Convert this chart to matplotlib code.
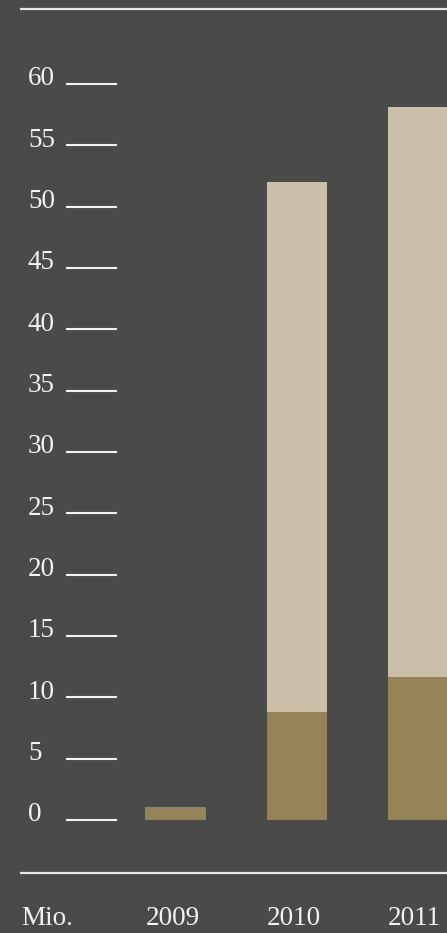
import numpy as np
import matplotlib
matplotlib.use('Agg')
import matplotlib.pyplot as plt
from matplotlib.lines import Line2D
import matplotlib.transforms as mtransforms

# data (Mio.)
years = ['2009', '2010', '2011']
lower = [1.1, 8.8, 11.65]
upper = [0.0, 43.2, 46.45]
yticks = list(range(0, 61, 5))

BG = '#4a4a48'
DARK = '#968459'
LIGHT = '#cac0aa'
TXT = '#f2f2f2'
FS = 19.5

plt.rcParams['font.family'] = ['Liberation Serif', 'DejaVu Serif']

fig = plt.figure(figsize=(4.47, 9.33), dpi=100, facecolor=BG)
ax = fig.add_axes([0, (933 - 820) / 933, 1, 736 / 933])
ax.set_facecolor(BG)

x = np.arange(len(years))
ax.bar(x, lower, width=0.5, color=DARK, linewidth=0)
ax.bar(x, upper, width=0.5, bottom=lower, color=LIGHT, linewidth=0)

ax.set_xlim(-175.7 / 121.2, (447 - 175.7) / 121.2)
ax.set_ylim(0, 60)
ax.axis('off')

# y ticks: label + short line
trans = mtransforms.blended_transform_factory(ax.transAxes, ax.transData)
for t in yticks:
    ax.text(28 / 447, t - 0.1, str(t), transform=trans, ha='left', va='baseline',
            fontsize=FS, color=TXT, clip_on=False)
    ax.plot([66 / 447, 117 / 447], [t, t], transform=trans, color=TXT,
            lw=1.5, solid_capstyle='butt', clip_on=False)

# top and bottom rules
fig.add_artist(Line2D([21 / 447, 1], [1 - 8.5 / 933, 1 - 8.5 / 933],
                      color='#e6e6e6', lw=1.6, transform=fig.transFigure))
fig.add_artist(Line2D([21 / 447, 1], [1 - 872.5 / 933, 1 - 872.5 / 933],
                      color='#e6e6e6', lw=1.6, transform=fig.transFigure))

# category labels
base = (933 - 925) / 933
fig.text(21 / 447, base, 'Mio.', ha='left', va='baseline', fontsize=FS, color=TXT)
trans2 = mtransforms.blended_transform_factory(ax.transData, fig.transFigure)
for i, y in enumerate(years):
    ax.text(i - 0.25, base, y, transform=trans2, ha='left', va='baseline',
            fontsize=FS, color=TXT, clip_on=False)

fig.savefig('out.png', dpi=100, facecolor=BG)
